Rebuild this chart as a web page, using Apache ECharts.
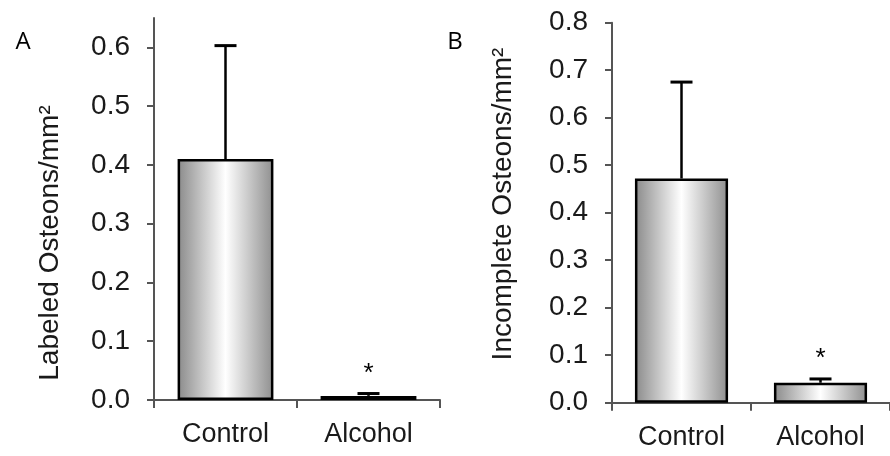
<!DOCTYPE html>
<html>
<head>
<meta charset="utf-8">
<script src="https://cdn.jsdelivr.net/npm/echarts@6/dist/echarts.min.js"></script>
<style>html,body{margin:0;padding:0;background:#fff}#c{width:890px;height:456px}</style>
</head>
<body>
<div id="c"></div>
<script>
const categories = ['Control', 'Alcohol'];
const labeledMean = [0.41, 0.007];
const labeledErr = [0.193, 0.004];
const labeledSig = ['', '*'];
const incompleteMean = [0.472, 0.042];
const incompleteErr = [0.203, 0.008];
const incompleteSig = ['', '*'];
const ticksA = [0, 0.1, 0.2, 0.3, 0.4, 0.5, 0.6];
const ticksB = [0, 0.1, 0.2, 0.3, 0.4, 0.5, 0.6, 0.7, 0.8];
const yNameA = 'Labeled Osteons/mm²';
const yNameB = 'Incomplete Osteons/mm²';

const FONT = '"Liberation Sans", Arial, sans-serif';
const AXIS_COLOR = '#555';

const chart = echarts.init(document.getElementById('c'), null, {renderer: 'canvas'});

const barFill = new echarts.graphic.LinearGradient(0, 0, 1, 0, [
  {offset: 0, color: '#8a8a8a'},
  {offset: 0.5, color: '#ffffff'},
  {offset: 1, color: '#8f8f8f'}
]);

function xAxis(gi) {
  return {
    type: 'category', gridIndex: gi, data: categories,
    boundaryGap: true,
    axisLine: {lineStyle: {color: AXIS_COLOR, width: 2}},
    axisTick: {show: true, length: 8, lineStyle: {color: AXIS_COLOR, width: 2}},
    axisLabel: {fontFamily: FONT, fontSize: 27, color: '#1a1a1a', margin: 21}
  };
}
function yAxis(gi, max, ticks) {
  return {
    type: 'value', gridIndex: gi, min: 0, max: max,
    splitLine: {show: false},
    axisLine: {show: true, lineStyle: {color: AXIS_COLOR, width: 2}},
    axisTick: {show: true, length: 7, customValues: ticks, lineStyle: {color: AXIS_COLOR, width: 2}},
    axisLabel: {customValues: ticks, fontFamily: FONT, fontSize: 28, color: '#1a1a1a', margin: 24,
      formatter: v => v.toFixed(1)}
  };
}
function errSeries(gi, mean, err, sig) {
  return {
    type: 'custom', xAxisIndex: gi, yAxisIndex: gi, z: 5,
    data: mean.map((m, i) => [i, m, err[i]]),
    encode: {x: 0, y: 1},
    renderItem: function (params, api) {
      const i = api.value(0), m = api.value(1), e = api.value(2);
      const base = api.coord([i, m]);
      const top = api.coord([i, m + e]);
      const children = [
        {type: 'line', shape: {x1: base[0], y1: base[1], x2: top[0], y2: top[1]}, style: {stroke: '#000', lineWidth: 2.5}},
        {type: 'line', shape: {x1: top[0] - 11, y1: top[1], x2: top[0] + 11, y2: top[1]}, style: {stroke: '#000', lineWidth: 3}}
      ];
      const s = sig[params.dataIndex];
      if (s) {
        children.push({type: 'text', style: {text: s, x: top[0], y: top[1] - 20, align: 'center', verticalAlign: 'middle',
          fontSize: 26, fontFamily: FONT, fill: '#000'}});
      }
      return {type: 'group', children: children};
    }
  };
}
function barSeries(gi, mean) {
  return {
    type: 'bar', xAxisIndex: gi, yAxisIndex: gi, data: mean, barWidth: '67%',
    itemStyle: {color: barFill, borderColor: '#000', borderWidth: 2.5},
    emphasis: {disabled: true}
  };
}

chart.setOption({
  animation: false,
  backgroundColor: '#fff',
  grid: [
    {left: 154, top: 18, width: 286, bottom: 56},
    {left: 612, top: 22.7, width: 286, bottom: 53.3}
  ],
  xAxis: [xAxis(0), xAxis(1)],
  yAxis: [yAxis(0, 0.65, ticksA), yAxis(1, 0.8, ticksB)],
  series: [
    barSeries(0, labeledMean), errSeries(0, labeledMean, labeledErr, labeledSig),
    barSeries(1, incompleteMean), errSeries(1, incompleteMean, incompleteErr, incompleteSig)
  ],
  graphic: [
    {type: 'text', x: 23, y: 42, style: {text: 'A', fontFamily: '"Open Sans", Lato, sans-serif', fontSize: 24, fill: '#000', align: 'center', verticalAlign: 'middle'}},
    {type: 'text', x: 455, y: 42, style: {text: 'B', fontFamily: '"Open Sans", Lato, sans-serif', fontSize: 24, fill: '#000', align: 'center', verticalAlign: 'middle'}},
    {type: 'text', x: 50, y: 243, rotation: Math.PI / 2, style: {text: yNameA, fontFamily: FONT, fontSize: 28, fill: '#1a1a1a', align: 'center', verticalAlign: 'middle'}},
    {type: 'text', x: 503, y: 204, rotation: Math.PI / 2, style: {text: yNameB, fontFamily: FONT, fontSize: 28, fill: '#1a1a1a', align: 'center', verticalAlign: 'middle'}}
  ]
});
</script>
</body>
</html>
